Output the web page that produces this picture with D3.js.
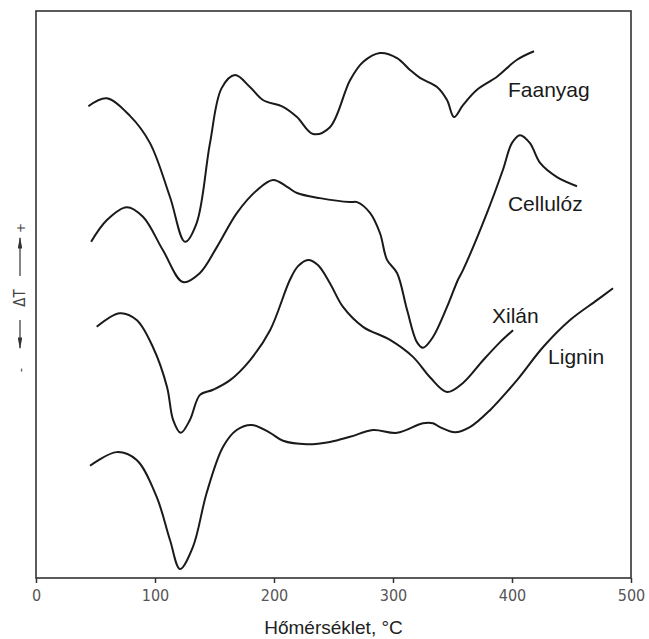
<!DOCTYPE html>
<html>
<head>
<meta charset="utf-8">
<script src="https://cdn.jsdelivr.net/npm/d3@7"></script>
<style>
  body { margin: 0; background: #fff; }
  svg { display: block; }
</style>
</head>
<body>
<div id="chart"></div>
<script>
// DTA görbék, hőmérséklet (°C) és ΔT (tetszőleges egység)
var faanyagT = [44, 59.4, 79, 95.8, 112.6, 125.2, 135, 146.2, 156, 167.2, 179.8, 190.7, 207.6, 219.3, 232.8, 247, 263.9, 274.8, 289.1, 303.4, 314.3, 322.7, 337, 345.4, 351.3, 358.8, 370.6, 387.4, 404.2, 418.5];
var faanyagV = [83.2, 84.6, 81.5, 76.7, 67.2, 59.3, 62.6, 76.7, 86.4, 88.7, 86.6, 84.3, 83.1, 81.3, 78.3, 79.5, 87.8, 91, 92.6, 91.7, 89.6, 88.2, 86.6, 84.3, 81.3, 83.4, 86.1, 88.4, 91.4, 92.9];

var cellulozT = [46.3, 59.4, 76.2, 89.9, 106.7, 123.5, 137.8, 152.1, 168.9, 185.7, 199.2, 211, 219.3, 238.6, 263.9, 269.8, 280.7, 289.1, 295, 303.4, 311.8, 320.1, 325.2, 333.6, 345.4, 354.6, 358.8, 379, 392.4, 399.9, 406.7, 415.1, 423.6, 437.8, 454.6];
var cellulozV = [59.3, 63.1, 65.4, 63.7, 57.8, 52.2, 53.8, 58.4, 64.4, 68.4, 70.2, 69, 67.9, 67, 66.3, 66.3, 64.4, 60.8, 56.1, 53.8, 47.3, 41.6, 40.6, 42.5, 47.8, 52.6, 54.3, 64.4, 72, 76.7, 78.1, 76.7, 73.2, 70.7, 69.1];

var xilanT = [51, 70.5, 84.6, 98.3, 110.1, 115.2, 121.6, 129.4, 137.8, 148.8, 163.1, 179.8, 196.7, 213.4, 220.2, 228.6, 236.9, 247, 258, 274.8, 297.5, 316.8, 331.1, 345.4, 358.8, 375.7, 390, 400.9];
var xilanV = [44.3, 46.7, 45.5, 40.7, 33.7, 27.9, 25.6, 27.9, 32.3, 33.2, 34.9, 38.4, 43.7, 52.6, 55, 56.1, 55.2, 52, 47.8, 44.3, 42, 39, 35.4, 32.8, 34.4, 38.4, 41.6, 43.7];

var ligninT = [45.4, 67.8, 84.6, 101.4, 112.6, 121, 131.9, 143.4, 157.1, 168.6, 181.2, 196.7, 207.6, 227.5, 247, 263.9, 283.1, 303.4, 325.2, 333.6, 339.5, 352.1, 364.6, 381.5, 404.2, 426, 448.8, 471.4, 484.9];
var ligninV = [19.8, 22.2, 20.8, 14.3, 6.7, 1.6, 5.5, 15, 23.1, 26.1, 27, 25.6, 24.2, 23.6, 24, 24.9, 26.1, 25.6, 27.3, 27.3, 26.6, 25.7, 26.6, 29.6, 34.9, 40.7, 45.5, 49, 51.1];

var seriesNames = ['Faanyag', 'Cellulóz', 'Xilán', 'Lignin'];
// címkék helye adatkoordinátákban
var labelT = [396.6, 396.6, 383.2, 430.3];
var labelV = [84.9, 64.8, 45, 37.8];

var xTicks = [0, 100, 200, 300, 400, 500];

var width = 649, height = 639;

var x = d3.scaleLinear().domain([0, 500]).range([36, 631]);
var y = d3.scaleLinear().domain([0, 100]).range([578, 11]);

var svg = d3.select('#chart').append('svg')
  .attr('width', width)
  .attr('height', height);

function zip(ts, vs) {
  return ts.map(function(t, i) { return [t, vs[i]]; });
}

var series = [
  zip(faanyagT, faanyagV),
  zip(cellulozT, cellulozV),
  zip(xilanT, xilanV),
  zip(ligninT, ligninV)
];

// keret
svg.append('rect')
  .attr('x', x(0))
  .attr('y', y(100))
  .attr('width', x(500) - x(0))
  .attr('height', y(0) - y(100))
  .attr('fill', 'none')
  .attr('stroke', '#333')
  .attr('stroke-width', 1.6);

// x tengely
var xAxis = d3.axisBottom(x)
  .tickValues(xTicks)
  .tickSize(5)
  .tickPadding(7)
  .tickFormat(d3.format('d'));

var gx = svg.append('g')
  .attr('transform', 'translate(0,' + y(0) + ')')
  .call(xAxis);

gx.select('.domain').remove();
gx.selectAll('line').attr('stroke', '#333').attr('stroke-width', 1.5);
gx.selectAll('text')
  .attr('fill', '#555')
  .style('font-family', '"DejaVu Sans Condensed", "DejaVu Sans", sans-serif')
  .style('font-size', '16px');

svg.append('text')
  .attr('x', (x(0) + x(500)) / 2)
  .attr('y', 634)
  .attr('text-anchor', 'middle')
  .style('font-family', '"Liberation Sans", Arial, sans-serif')
  .style('font-size', '19px')
  .attr('fill', '#222')
  .text('Hőmérséklet, °C');

// ΔT jelölés
var yl = svg.append('g')
  .attr('transform', 'translate(20,298) rotate(-90)');

yl.append('defs').append('marker')
  .attr('id', 'arr')
  .attr('viewBox', '0 0 10 10')
  .attr('refX', 9).attr('refY', 5)
  .attr('markerWidth', 9).attr('markerHeight', 3.5)
  .attr('orient', 'auto')
  .attr('preserveAspectRatio', 'none')
  .append('path')
  .attr('d', 'M0,0L10,5L0,10Z')
  .attr('fill', '#333');

yl.append('line')
  .attr('x1', 22).attr('x2', 60).attr('y1', 0).attr('y2', 0)
  .attr('stroke', '#444').attr('stroke-width', 1.3)
  .attr('marker-end', 'url(#arr)');
yl.append('line')
  .attr('x1', -22).attr('x2', -50).attr('y1', 0).attr('y2', 0)
  .attr('stroke', '#444').attr('stroke-width', 1.3)
  .attr('marker-end', 'url(#arr)');
yl.append('text')
  .attr('x', 0).attr('y', 5)
  .attr('text-anchor', 'middle')
  .style('font-family', '"DejaVu Sans Condensed", sans-serif')
  .style('font-size', '15px')
  .attr('fill', '#444')
  .text('ΔT');
yl.append('text')
  .attr('x', 70).attr('y', 5)
  .attr('text-anchor', 'middle')
  .style('font-family', '"DejaVu Sans", sans-serif')
  .style('font-size', '12px')
  .attr('fill', '#444')
  .text('+');
yl.append('text')
  .attr('x', -72).attr('y', 5)
  .attr('text-anchor', 'middle')
  .style('font-family', '"DejaVu Sans", sans-serif')
  .style('font-size', '12px')
  .attr('fill', '#444')
  .text('-');

// görbék
var line = d3.line()
  .x(function(d) { return x(d[0]); })
  .y(function(d) { return y(d[1]); })
  .curve(d3.curveCatmullRom.alpha(0.5));

svg.selectAll('.curve')
  .data(series)
  .enter()
  .append('path')
  .attr('class', 'curve')
  .attr('d', line)
  .attr('fill', 'none')
  .attr('stroke', '#1a1a1a')
  .attr('stroke-width', 2);

svg.selectAll('.lbl')
  .data(seriesNames)
  .enter()
  .append('text')
  .attr('class', 'lbl')
  .attr('x', function(d, i) { return x(labelT[i]); })
  .attr('y', function(d, i) { return y(labelV[i]); })
  .style('font-family', '"Liberation Sans", Arial, sans-serif')
  .style('font-size', '21px')
  .attr('fill', '#1a1a1a')
  .text(function(d) { return d; });
</script>
</body>
</html>
